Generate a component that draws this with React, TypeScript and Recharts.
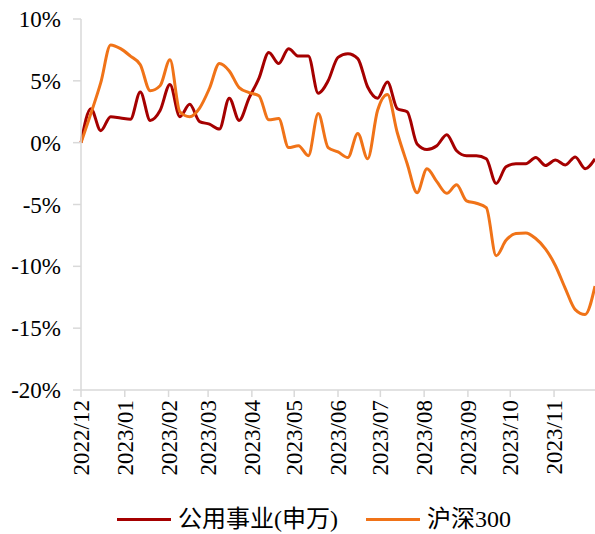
import { LineChart, Line, XAxis, YAxis } from 'recharts';

// weekly closes, cumulative change (%) since 2022/12/02
const utilities = [
  0, 2.75, 0.97, 2.1, 2.0, 1.9, 4.1, 1.8, 2.6, 4.7,
  2.1, 3.1, 1.7, 1.5, 1.1, 3.6, 1.8, 3.6, 5.2, 7.3,
  6.4, 7.6, 7.0, 7.0, 4.0, 5.0, 6.9, 7.2, 6.8, 4.5,
  3.6, 4.9, 2.75, 2.5, -0.1, -0.55, -0.25, 0.65, -0.65, -1.05,
  -1.05, -1.3, -3.3, -1.95, -1.7, -1.7, -1.2, -1.85, -1.4, -1.8,
  -1.15, -2.1, -1.3,
];
const csi300 = [
  0, 2.35, 4.85, 7.9, 7.6, 7.0, 6.3, 4.2, 4.6, 6.7,
  2.5, 2.1, 2.8, 4.4, 6.4, 5.8, 4.45, 4.05, 3.8, 1.85,
  1.95, -0.4, -0.25, -1.05, 2.35, -0.4, -0.75, -1.2, 0.75, -1.3,
  2.6, 3.9, 0.8, -1.7, -4.05, -2.1, -3.15, -4.1, -3.4, -4.7,
  -4.9, -5.25, -9.15, -7.9, -7.35, -7.3, -7.75, -8.6, -9.95, -11.8,
  -13.5, -13.9, -11.6,
];
const monthLabels = [
  '2022/12', '2023/01', '2023/02', '2023/03', '2023/04', '2023/05',
  '2023/06', '2023/07', '2023/08', '2023/09', '2023/10', '2023/11',
];
const yTicks = [10, 5, 0, -5, -10, -15, -20];

const start = new Date(2022, 11, 1).getTime();
const DAY = 86400000;
const monthTicks = monthLabels.map((_, i) =>
  Math.round((new Date(2022, 11 + i, 1).getTime() - start) / DAY)
);

const data = utilities.map((v, i) => ({
  day: i * 7,
  utilities: v,
  csi300: csi300[i],
}));

const RED = '#a50000';
const ORANGE = '#f07318';
const FONT = '"Liberation Serif", "Times New Roman", "Noto Sans CJK SC", serif';

const MonthTick = (props: any) => {
  const { x, y, payload } = props;
  const idx = monthTicks.indexOf(payload.value);
  return (
    <text
      transform={`translate(${x + 8},${y + 3}) rotate(-90)`}
      textAnchor="end"
      fontSize={23}
      fontFamily={FONT}
      fill="#000"
    >
      {monthLabels[idx]}
    </text>
  );
};

const LegendItem = ({ color, label, gap }: { color: string; label: string; gap: number }) => (
  <span style={{ display: 'inline-flex', alignItems: 'center', marginRight: gap }}>
    <span style={{ display: 'inline-block', width: 54, height: 3, background: color, marginRight: 7 }} />
    <span>{label}</span>
  </span>
);

const App = () => {
  return (
    <div style={{ position: 'absolute', left: 0, top: 0, width: 595, height: 534, background: '#fff' }}>
      <LineChart width={595} height={534} data={data} margin={{ top: 19, right: 0, bottom: 44, left: 0 }}>
        <XAxis
          dataKey="day"
          type="number"
          domain={[0, 364]}
          ticks={monthTicks}
          interval={0}
          tick={<MonthTick />}
          tickSize={7}
          tickMargin={0}
          height={100}
          stroke="#d9d9d9"
          strokeWidth={1.5}
        />
        <YAxis
          type="number"
          domain={[-20, 10]}
          ticks={yTicks}
          interval={0}
          width={81}
          tickSize={8}
          tickMargin={12}
          tickFormatter={(v: number) => `${v}%`}
          tick={{ fontSize: 23, fontFamily: FONT, fill: '#000' }}
          stroke="#d9d9d9"
          strokeWidth={1.5}
        />
        <Line
          type="monotone"
          dataKey="utilities"
          stroke={RED}
          strokeWidth={3}
          dot={false}
          isAnimationActive={false}
        />
        <Line
          type="monotone"
          dataKey="csi300"
          stroke={ORANGE}
          strokeWidth={3}
          dot={false}
          isAnimationActive={false}
        />
      </LineChart>
      <div
        style={{
          position: 'absolute',
          top: 505,
          left: 117,
          fontFamily: FONT,
          fontSize: 24,
          lineHeight: '28px',
          whiteSpace: 'nowrap',
          display: 'flex',
        }}
      >
        <LegendItem color={RED} label="公用事业(申万)" gap={28} />
        <LegendItem color={ORANGE} label="沪深300" gap={0} />
      </div>
    </div>
  );
};

export default App;
